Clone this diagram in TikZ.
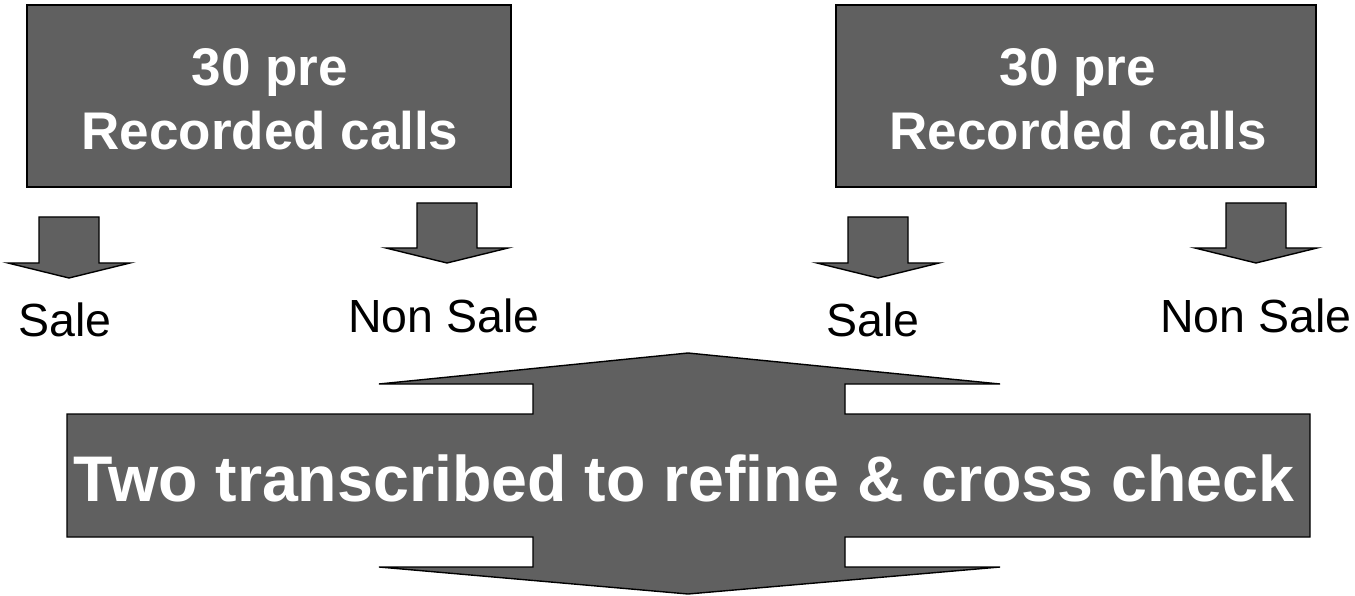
\documentclass[tikz,border=0pt]{standalone}
\usepackage{fontspec}
\setmainfont{Liberation Sans}
\definecolor{boxgray}{RGB}{96,96,96}
\begin{document}
\begin{tikzpicture}[x=1pt,y=-1pt,
  box/.style={draw=black, line width=1.5pt, fill=boxgray, inner sep=0pt},
  blk/.style={draw=black, line width=1.4pt, fill=boxgray, line join=miter},
  boxtext/.style={text=white, font=\bfseries\fontsize{53}{60}\selectfont, anchor=base, inner sep=0pt},
  bigtext/.style={text=white, font=\bfseries\fontsize{64.5}{70}\selectfont, anchor=base, inner sep=0pt},
  lbl/.style={font=\fontsize{46.5}{50}\selectfont, anchor=base, inner sep=0pt}]
\useasboundingbox (0,0) rectangle (1355,596);
% top boxes
\node[box, minimum width=484pt, minimum height=182pt] (b1) at (269,96) {};
\node[box, minimum width=480pt, minimum height=182pt] (b2) at (1076,96) {};
\node[boxtext] (b1a) at (270,86) {30 pre};
\node[boxtext] (b1b) at (270,150) {Recorded calls};
\node[boxtext] (b2a) at (1078,86) {30 pre};
\node[boxtext] (b2b) at (1078,150) {Recorded calls};
% block arrows
\draw[blk] (39,217) -- (99,217) -- (99,263) -- (130,263) -- (69,278) -- (8,263) -- (39,263) -- cycle;
\draw[blk] (417,203) -- (477,203) -- (477,248) -- (508,248) -- (447,263) -- (386,248) -- (417,248) -- cycle;
\draw[blk] (848,217) -- (908,217) -- (908,263) -- (939,263) -- (878,278) -- (817,263) -- (848,263) -- cycle;
\draw[blk] (1226,203) -- (1286,203) -- (1286,248) -- (1317,248) -- (1256,263) -- (1195,248) -- (1226,248) -- cycle;
% labels
\node[lbl] (s1) at (65,336) {Sale};
\node[lbl] (n1) at (444,332) {Non Sale};
\node[lbl] (s2) at (873,336) {Sale};
\node[lbl] (n2) at (1256,332) {Non Sale};
% big double arrow
\draw[blk] (688,353) -- (1000,384) -- (845,384) -- (845,414) -- (1310,414) -- (1310,537)
  -- (845,537) -- (845,567) -- (1000,567) -- (688,594) -- (379,567) -- (533,567)
  -- (533,537) -- (67,537) -- (67,414) -- (533,414) -- (533,384) -- (379,384) -- cycle;
\node[bigtext] (mid) at (684,501) {Two transcribed to refine \& cross check};
\end{tikzpicture}
\end{document}
